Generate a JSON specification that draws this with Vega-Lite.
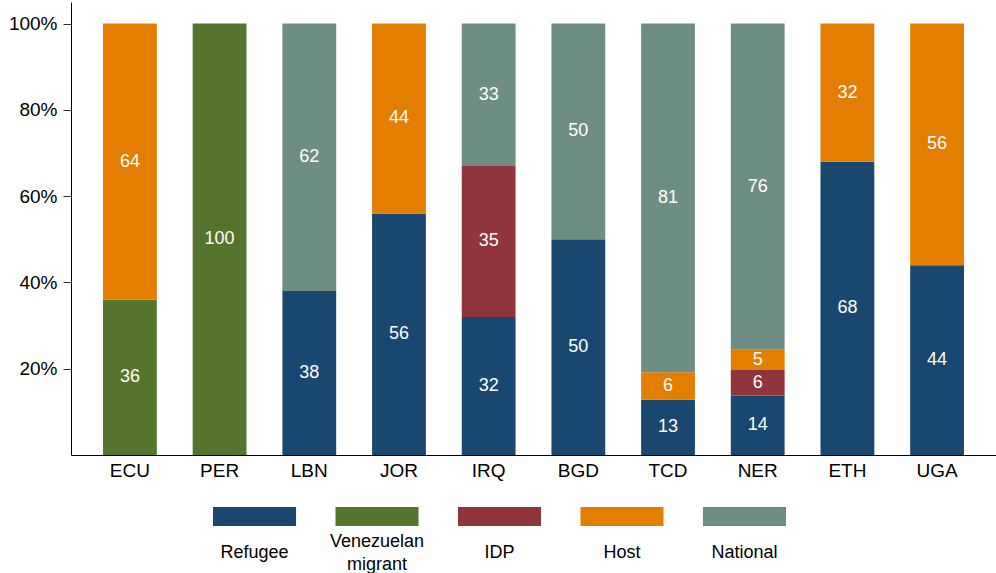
{
  "$schema": "https://vega.github.io/schema/vega-lite/v6.json",
  "padding": {"left": 8, "top": 2, "right": 0, "bottom": 0},
  "autosize": {"type": "pad"},
  "spacing": 27,
  "config": {
    "view": {"stroke": null},
    "font": "Liberation Sans",
    "axis": {"grid": false, "domainColor": "#000", "labelColor": "#000", "tickColor": "#333", "domainWidth": 1}
  },
  "datasets": {
    "shares": [
      {"country": "ECU", "group": "Venezuelan migrant", "value": 36},
      {"country": "ECU", "group": "Host", "value": 64},
      {"country": "PER", "group": "Venezuelan migrant", "value": 100},
      {"country": "LBN", "group": "Refugee", "value": 38},
      {"country": "LBN", "group": "National", "value": 62},
      {"country": "JOR", "group": "Refugee", "value": 56},
      {"country": "JOR", "group": "Host", "value": 44},
      {"country": "IRQ", "group": "Refugee", "value": 32},
      {"country": "IRQ", "group": "IDP", "value": 35},
      {"country": "IRQ", "group": "National", "value": 33},
      {"country": "BGD", "group": "Refugee", "value": 50},
      {"country": "BGD", "group": "National", "value": 50},
      {"country": "TCD", "group": "Refugee", "value": 12.8},
      {"country": "TCD", "group": "Host", "value": 6.4},
      {"country": "TCD", "group": "National", "value": 80.8},
      {"country": "NER", "group": "Refugee", "value": 13.8},
      {"country": "NER", "group": "IDP", "value": 5.9},
      {"country": "NER", "group": "Host", "value": 4.7},
      {"country": "NER", "group": "National", "value": 75.6},
      {"country": "ETH", "group": "Refugee", "value": 68},
      {"country": "ETH", "group": "Host", "value": 32},
      {"country": "UGA", "group": "Refugee", "value": 44},
      {"country": "UGA", "group": "Host", "value": 56}
    ],
    "groups": [
      {"group": "Refugee", "label": "Refugee"},
      {"group": "Venezuelan migrant", "label": "Venezuelan\nmigrant"},
      {"group": "IDP", "label": "IDP"},
      {"group": "Host", "label": "Host"},
      {"group": "National", "label": "National"}
    ]
  },
  "vconcat": [
    {
      "width": 925,
      "height": 453,
      "data": {"name": "shares"},
      "transform": [
        {"calculate": "indexof(['Refugee','Venezuelan migrant','IDP','Host','National'], datum.group)", "as": "k"},
        {"stack": "value", "groupby": ["country"], "sort": [{"field": "k", "order": "ascending"}], "as": ["v0", "v1"]},
        {"calculate": "(datum.v0 + datum.v1) / 2", "as": "mid"}
      ],
      "encoding": {
        "x": {
          "field": "country", "type": "nominal",
          "sort": ["ECU", "PER", "LBN", "JOR", "IRQ", "BGD", "TCD", "NER", "ETH", "UGA"],
          "scale": {"paddingInner": 0.4, "paddingOuter": 0.357},
          "axis": {"title": null, "labelAngle": 0, "ticks": false, "labelFontSize": 19, "labelPadding": 6}
        }
      },
      "layer": [
        {
          "mark": {"type": "bar"},
          "encoding": {
            "y": {
              "field": "v0", "type": "quantitative",
              "scale": {"domain": [0, 105], "nice": false},
              "axis": {"title": null, "values": [20, 40, 60, 80, 100], "labelExpr": "datum.value + '%'", "tickSize": 8, "labelPadding": 6, "labelFontSize": 19}
            },
            "y2": {"field": "v1"},
            "color": {
              "field": "group", "type": "nominal",
              "scale": {"domain": ["Refugee", "Venezuelan migrant", "IDP", "Host", "National"], "range": ["#1a476f", "#55752f", "#90353b", "#e37e00", "#6e8e84"]},
              "legend": null
            }
          }
        },
        {
          "mark": {"type": "text", "color": "white", "fontSize": 18},
          "encoding": {
            "y": {"field": "mid", "type": "quantitative"},
            "text": {"field": "value", "type": "quantitative", "format": ".0f"}
          }
        }
      ]
    },
    {
      "width": 925,
      "height": 19,
      "data": {"name": "groups"},
      "encoding": {
        "x": {
          "field": "group", "type": "nominal", "sort": null,
          "scale": {"domain": ["Refugee", "Venezuelan migrant", "IDP", "Host", "National"], "range": [142, 715], "paddingInner": 0.322, "paddingOuter": 0},
          "axis": null
        }
      },
      "layer": [
        {
          "mark": {"type": "bar"},
          "encoding": {
            "color": {
              "field": "group", "type": "nominal",
              "scale": {"domain": ["Refugee", "Venezuelan migrant", "IDP", "Host", "National"], "range": ["#1a476f", "#55752f", "#90353b", "#e37e00", "#6e8e84"]},
              "legend": null
            }
          }
        },
        {
          "transform": [{"filter": "datum.group !== 'Venezuelan migrant'"}],
          "mark": {"type": "text", "fontSize": 18, "color": "#000", "baseline": "middle", "dy": 36},
          "encoding": {"text": {"field": "label"}}
        },
        {
          "transform": [{"filter": "datum.group === 'Venezuelan migrant'"}],
          "mark": {"type": "text", "fontSize": 18, "color": "#000", "lineBreak": "\n", "lineHeight": 23, "baseline": "middle", "dy": 25},
          "encoding": {"text": {"field": "label"}}
        }
      ]
    }
  ]
}
